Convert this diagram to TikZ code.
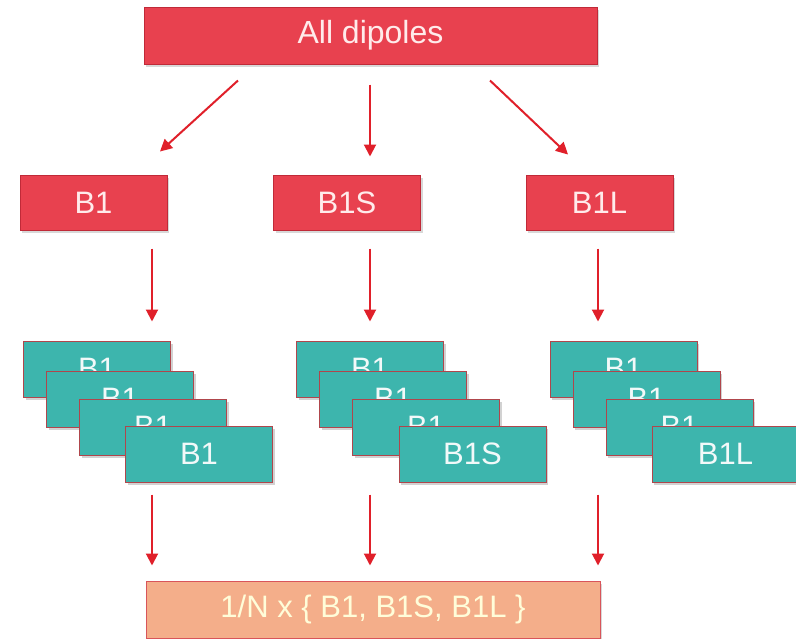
\documentclass[tikz,border=0pt]{standalone}
\usepackage{fontspec}
\setmainfont{Liberation Sans}
\usetikzlibrary{shadows,arrows.meta,calc}
\definecolor{redfill}{HTML}{E8414F}
\definecolor{redline}{HTML}{C02A38}
\definecolor{tealfill}{HTML}{3DB5AD}
\definecolor{tealline}{HTML}{B0464C}
\definecolor{salfill}{HTML}{F4AE8A}
\definecolor{salline}{HTML}{D8555A}
\definecolor{arrred}{HTML}{E0202A}
\tikzset{
  redbox/.style={draw=redline, line width=1pt, fill=redfill, text=white!92!red,
    minimum width=147pt, minimum height=55pt, inner sep=0pt,
    font=\fontsize{31}{33}\selectfont,
    drop shadow={opacity=0.3, shadow xshift=2pt, shadow yshift=-3pt}},
  tealbox/.style={draw=tealline, line width=1pt, fill=tealfill, text=white!95!teal,
    minimum width=147pt, minimum height=56pt, inner sep=0pt,
    font=\fontsize{31}{33}\selectfont,
    drop shadow={opacity=0.35, shadow xshift=2pt, shadow yshift=-3pt}},
  salbox/.style={draw=salline, line width=1pt, fill=salfill, text=white!85!yellow,
    minimum width=454pt, minimum height=57pt, inner sep=0pt,
    font=\fontsize{31}{33}\selectfont,
    drop shadow={opacity=0.3, shadow xshift=2pt, shadow yshift=-3pt}},
  arr/.style={draw=arrred, line width=2pt, -{Triangle[width=12pt,length=12pt]}}
}
\begin{document}
\begin{tikzpicture}[x=1pt,y=-1pt]
\useasboundingbox (0,0) rectangle (796,638);
\fill[white] (0,0) rectangle (796,638);
% top
\node[redbox, minimum width=453pt, minimum height=57pt, font=\fontsize{32}{34}\selectfont] (top) at (370.5,35.5) {All dipoles};
% second row
\node[redbox] (b1) at (93.5,202.5) {B1};
\node[redbox] (b1s) at (347,202.5) {B1S};
\node[redbox] (b1l) at (599.5,202.5) {B1L};
% left stack
\node[tealbox] (L1) at (97,369) {B1};
\node[tealbox] (L2) at (120,399) {B1};
\node[tealbox] (L3) at (153,427) {B1};
\node[tealbox] (L4) at (199,454) {B1};
% middle stack
\node[tealbox] (M1) at (370,369) {B1};
\node[tealbox] (M2) at (393,399) {B1};
\node[tealbox] (M3) at (426,427) {B1};
\node[tealbox] (M4) at (472.5,454) {B1S};
% right stack
\node[tealbox] (R1) at (623.5,369) {B1};
\node[tealbox] (R2) at (646.5,399) {B1};
\node[tealbox] (R3) at (679.5,427) {B1};
\node[tealbox] (R4) at (725.5,454) {B1L};
% bottom
\node[salbox] (bot) at (373,609.5) {1/N x \{ B1, B1S, B1L \}};
% arrows
\draw[arr] ($(top.south)+(-132.5,16)$) -- ($(b1.north)+(66.5,-23)$);
\draw[arr] ($(top.south)+(-0.5,20)$) -- ($(b1s.north)+(23,-18)$);
\draw[arr] ($(top.south)+(119.5,16)$) -- ($(b1l.north)+(-31.5,-20)$);
\draw[arr] ($(b1.south)+(58.5,18)$) -- ($(L1.north)+(55,-19)$);
\draw[arr] ($(b1s.south)+(23,18)$) -- ($(M1.north)+(0,-19)$);
\draw[arr] ($(b1l.south)+(-1.5,18)$) -- ($(R1.north)+(-25.5,-19)$);
\draw[arr] ($(L4.south)+(-47,12)$) -- ($(bot.north)+(-221,-15)$);
\draw[arr] ($(M4.south)+(-102.5,12)$) -- ($(bot.north)+(-3,-15)$);
\draw[arr] ($(R4.south)+(-127.5,12)$) -- ($(bot.north)+(225,-15)$);
\end{tikzpicture}
\end{document}
